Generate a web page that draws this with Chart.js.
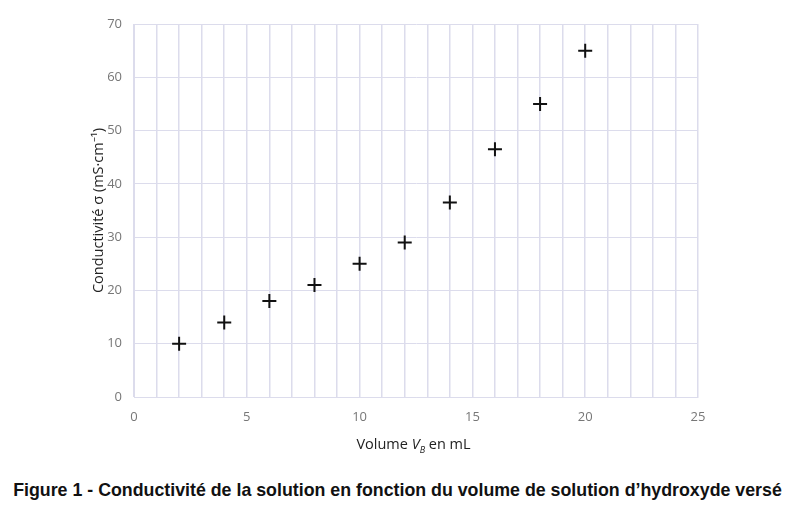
<!DOCTYPE html>
<html><head><meta charset="utf-8">
<script src="https://cdn.jsdelivr.net/npm/chart.js@4"></script>
<style>
body{margin:0;background:#fff;width:795px;height:515px;position:relative;overflow:hidden;font-family:"Open Sans","Liberation Sans",sans-serif}
#wrap{position:absolute;left:0;top:0;width:795px;height:470px}
#xt{position:absolute;left:0;width:795px;text-align:center;top:434px;font-size:14.5px;color:#222;padding-left:32px;box-sizing:border-box}
#cap{position:absolute;left:0;width:795px;text-align:center;top:480px;font-family:"Liberation Sans",Arial,sans-serif;font-weight:bold;font-size:17.8px;color:#111;white-space:nowrap}
</style></head><body>
<div id="wrap"><canvas id="c"></canvas></div>
<div id="xt">Volume <i>V</i><sub style="font-size:9px;font-style:italic">B</sub> en mL</div>
<div id="cap">Figure 1 - Conductivité de la solution en fonction du volume de solution d’hydroxyde versé</div>
<script>
const volumes=[2,4,6,8,10,12,14,16,18,20];
const conductivity=[10,14,18,21,25,29,36.5,46.5,55,65];
const xTicks=[0,5,10,15,20,25];
const yTitle='Conductivité σ (mS·cm⁻¹)';
new Chart(document.getElementById('c'),{
type:'scatter',
data:{datasets:[{data:volumes.map((v,i)=>({x:v,y:conductivity[i]})),pointStyle:'cross',pointRadius:7,pointHoverRadius:7,borderColor:'#111',borderWidth:2}]},
options:{responsive:true,maintainAspectRatio:false,animation:false,
layout:{padding:{top:24,right:97,left:90,bottom:0}},
plugins:{legend:{display:false},tooltip:{enabled:false}},
scales:{
x:{type:'linear',min:0,max:25,
 afterFit:s=>{s.height=73},
 grid:{color:'#dcdcec',lineWidth:1.5,drawTicks:false},border:{color:'#dcdcec'},
 ticks:{stepSize:1,padding:12,color:'#777',font:{size:13,family:'Open Sans'},callback:v=>xTicks.includes(v)?String(v):''}},
y:{min:0,max:70,
 afterFit:s=>{s.width=44},
 grid:{color:'#dcdcec',lineWidth:1,drawTicks:false},border:{color:'#dcdcec'},
 ticks:{stepSize:10,padding:12,color:'#777',font:{size:13,family:'Open Sans'}},
 title:{display:true,text:yTitle,color:'#222',font:{size:14.5,family:'Open Sans'},padding:{bottom:4,top:0}}}
}}});
</script></body></html>
